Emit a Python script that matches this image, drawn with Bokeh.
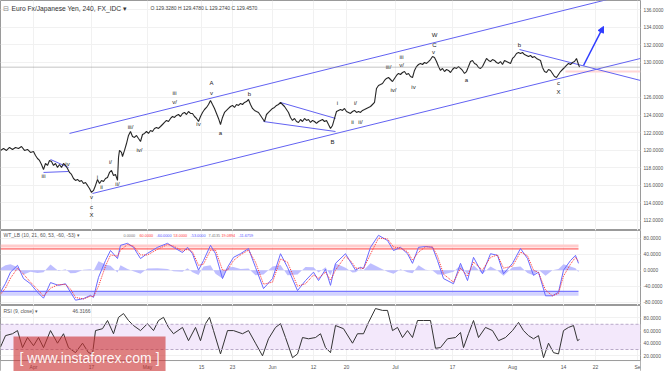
from bokeh.plotting import figure
from bokeh.layouts import column
from bokeh.models import Range1d, FixedTicker, NumeralTickFormatter, Label, Span, Arrow, NormalHead
from bokeh.core.properties import value
from bokeh.embed import file_html
from bokeh.resources import INLINE

FONT = "Liberation Sans"

# ---------------- data (x = bar index along the time axis) ----------------
price_x = ([0, 3, 6, 9, 12, 15, 18, 21, 24, 27, 30, 33]
           + list(range(35, 118, 2)) + [118, 119, 121, 122]
           + list(range(124, 149, 2)) + list(range(150, 579, 2)) + [579])
price = [119.96, 120.18, 119.96, 120.30, 120.07, 120.30, 120.18, 120.41, 119.96, 120.07, 119.73, 119.84,
         119.39, 119.04, 118.82, 118.36, 117.79, 118.47, 118.25, 118.82, 118.70, 118.25,
         118.47, 118.02, 118.36, 118.02, 118.47, 118.25, 117.90, 117.45, 117.22, 116.76,
         116.54, 116.65, 116.42, 116.54, 116.19, 116.31, 115.97, 115.62, 115.17, 115.40,
         115.97, 116.65, 116.19, 116.54, 116.42, 116.76, 116.88, 117.45, 117.68, 117.11,
         117.22, 116.54,
         119.16, 119.96, 119.73, 119.27,
         119.96, 120.75, 121.67, 122.12, 121.55, 121.44, 121.67, 121.32, 120.98, 121.78, 121.90, 122.12, 121.90,
         122.24, 122.12, 122.47, 122.58, 122.47, 122.69, 122.92, 123.15, 123.38, 123.26,
         123.61, 123.83, 123.72, 123.95, 124.06, 123.83, 124.18, 124.29, 124.06, 124.40,
         124.18, 124.18, 123.83, 123.61, 123.26, 123.83, 124.29, 124.63, 124.86, 125.20,
         125.66, 125.20, 124.75, 124.18, 123.61, 122.92, 123.72, 124.29, 124.52, 124.75,
         124.97, 125.09, 124.86, 125.20, 125.09, 125.32, 125.20, 125.43, 125.54, 125.77,
         125.20, 124.75, 124.52, 124.40, 124.29, 123.95, 123.61, 123.26, 124.06, 124.29,
         124.52, 124.75, 124.86, 125.09, 125.20, 125.43, 125.20, 124.97, 124.63, 124.29,
         123.72, 123.38, 123.61, 123.26, 123.15, 123.49, 123.26, 123.61, 123.38, 123.49,
         123.15, 123.38, 123.26, 123.04, 123.26, 123.38, 123.49, 123.26, 123.38, 122.92,
         122.47, 122.81, 123.61, 124.40, 124.52, 124.63, 124.52, 124.75, 124.40, 124.29,
         124.18, 124.40, 124.52, 124.29, 124.40, 124.29, 124.52, 124.63, 124.75, 124.86,
         124.97, 125.20, 125.43, 127.03, 127.37, 127.48, 127.60, 127.94, 128.17, 128.28,
         128.05, 127.82, 128.17, 128.51, 128.74, 128.62, 128.85, 128.96, 128.62, 128.74,
         128.39, 128.28, 129.08, 129.53, 129.76, 129.88, 129.76, 129.99, 129.88, 130.10,
         130.33, 130.67, 130.56, 130.10, 129.53, 129.08, 129.31, 128.96, 129.19, 129.08,
         128.85, 129.19, 129.42, 129.31, 129.53, 129.31, 129.08, 128.74, 128.96, 129.53,
         130.10, 130.22, 129.88, 129.76, 129.42, 129.31, 129.53, 129.99, 130.45, 130.22,
         130.10, 130.33, 130.22, 129.99, 129.88, 130.10, 129.76, 130.22, 130.10, 129.99,
         129.88, 130.45, 130.67, 131.02, 131.13, 131.02, 131.13, 130.90, 130.79, 130.67,
         130.79, 130.56, 130.67, 130.45, 130.33, 130.22, 129.42, 128.96, 128.85, 129.19,
         129.08, 128.74, 128.39, 128.28, 128.62, 128.96, 129.19, 129.42, 129.65, 129.88,
         129.76, 129.99, 130.10, 130.45, 129.76,
         129.46]
last_close = 129.457
red_level = 128.0

# trend lines: (x0, p0, x1, p1)
line_x0 = [69, 92, 43, 50, 280, 263, 519]
line_p0 = [121.90, 115.05, 117.45, 118.93, 125.43, 123.26, 131.47]
line_x1 = [640, 640, 68, 68, 335, 335, 640]
line_p1 = [138.11, 130.45, 117.56, 118.02, 123.61, 122.12, 127.94]
arrow_from = (583, 129.65)
arrow_to = (603, 134.10)
pink_left, pink_right, pink_bottom, pink_top = 565, 640, 128.85, 129.08

# Elliott wave labels
wave_txt = ["iii", "iv", "v", "c", "X", "i", "ii", "i/", "ii/", "iii/", "iv/", "iii", "v/", "iv",
            "A", "v", "a", "b", "B", "i", "i/", "ii", "ii/", "iii", "iii/", "v/", "iv/", "iv",
            "W", "C", "v", "a", "b", "c", "X"]
wave_x = [43, 67, 91, 91, 91, 97, 101, 110, 117, 130, 139, 174, 174, 198,
          211, 211, 220, 249, 332, 337, 355, 352, 360, 401, 388, 401, 393, 413,
          434, 434, 433, 466, 519, 558, 558]
wave_p = [116.99, 118.47, 114.60, 113.46, 112.55, 116.88, 115.74, 118.59, 116.08, 122.58, 119.96,
          126.46, 125.43, 122.92, 127.60, 126.46, 121.90, 126.34, 120.87, 125.32, 125.32, 123.15,
          123.15, 130.67, 129.53, 129.65, 126.91, 127.14, 133.07, 131.93, 131.13, 127.94, 132.04,
          127.60, 126.68]

price_ticks = [112, 114, 116, 118, 120, 122, 124, 126, 130, 132, 134, 136]

# WT_LB oscillator
wt_x = [0, 5, 10, 17, 23, 30, 37, 43, 50, 58, 65, 70, 75, 83, 90, 93, 98, 105, 110, 117, 120, 127,
        133, 140, 147, 157, 167, 173, 182, 187, 192, 198, 203, 210, 215, 222, 227, 233, 240, 248,
        255, 263, 272, 280, 287, 297, 305, 313, 318, 325, 330, 335, 345, 352, 355, 360, 363, 370,
        378, 387, 393, 400, 407, 412, 418, 425, 432, 437, 443, 453, 460, 467, 473, 482, 490, 497,
        503, 512, 520, 527, 533, 538, 545, 552, 558, 563, 570, 575, 578]
wt1 = [-55, -33, -5, 12, -21, -34, -55, -70, -31, -38, -34, -55, -75, -71, -63, -68, -18, 24, 49, 29,
       62, 67, 57, 29, 42, 57, 67, 57, 44, 57, 41, 0, 24, 62, 41, -21, 7, 32, 41, 54, 7, -46, -21,
       41, 7, -51, -26, -5, -26, 2, -38, 17, 41, 12, 0, 7, 4, 57, 87, 74, 49, 57, 41, 17, 57, 59, 57,
       24, -21, -34, 17, -26, 32, -9, 41, 37, -9, 17, 54, 29, -13, -5, -64, -64, -55, 0, 24, 37, 17]
wt2 = [-60, -45, -20, 5, -10, -30, -48, -65, -45, -36, -36, -47, -68, -72, -65, -66, -40, 10, 38, 35,
       50, 64, 60, 38, 38, 52, 64, 60, 48, 52, 46, 12, 15, 50, 50, 0, 0, 24, 38, 50, 20, -35, -30,
       28, 20, -40, -34, -12, -20, -5, -25, 0, 35, 18, 5, 5, 4, 40, 80, 78, 58, 55, 46, 25, 45, 58,
       58, 35, -10, -30, 5, -15, 20, 0, 32, 38, 5, 10, 45, 36, 0, -6, -50, -64, -58, -15, 15, 32, 22]
wt_hist = [5, 12, 15, 7, -11, -4, -7, -5, 14, -2, 2, -8, -7, 1, 2, -2, 22, 14, 11, -6, 12, 3, -3, -9,
           4, 5, 3, -3, -4, 5, -5, -12, 9, 12, -9, -21, 7, 8, 3, 4, -13, -11, 9, 13, -13, -11, 8, 7,
           -6, 7, -13, 17, 6, -6, -5, 2, 0, 17, 7, -4, -9, 2, -5, -8, 12, 1, -1, -11, -11, -4, 12,
           -11, 12, -9, 9, -1, -14, 7, 9, -7, -13, 1, -14, 0, 3, 15, 9, 5, -5]
osc_ticks = [-80, -40, 0, 40, 80]
osc_header_vals = ["0.0000", "60.0000", "-60.0000", "53.0000", "-53.0000", "7.4135", "19.0894", "-11.6759"]
osc_header_cols = ["#777777", "#ff3b3b", "#5555ff", "#ff3b3b", "#5555ff", "#777777", "#ff3b3b", "#5555ff"]
osc_header_x = [123, 139, 156, 173, 190, 208, 221, 238]

# RSI (9, close)
rsi_x = [0, 5, 12, 17, 22, 27, 33, 38, 43, 50, 57, 63, 68, 75, 82, 88, 92, 95, 102, 107, 113, 118,
         123, 128, 133, 140, 147, 153, 158, 163, 168, 173, 182, 188, 195, 200, 205, 209, 213, 220,
         227, 233, 242, 248, 255, 262, 268, 275, 280, 285, 292, 297, 302, 308, 315, 320, 325, 330,
         335, 343, 352, 357, 363, 368, 375, 382, 387, 392, 397, 402, 407, 412, 417, 423, 430, 435,
         440, 447, 455, 460, 463, 468, 473, 478, 485, 492, 498, 505, 512, 518, 523, 528, 533, 538,
         543, 548, 553, 558, 563, 568, 573, 577, 579]
rsi = [34, 52, 55, 60, 33, 49, 36, 49, 33, 60, 40, 55, 33, 25, 40, 25, 23, 60, 63, 76, 55, 81, 87,
       76, 68, 60, 71, 60, 76, 81, 65, 55, 65, 44, 65, 44, 71, 81, 60, 23, 60, 60, 55, 60, 40, 20,
       47, 65, 71, 49, 17, 23, 49, 47, 49, 55, 33, 25, 68, 63, 40, 55, 55, 73, 95, 92, 92, 60, 65,
       49, 60, 49, 76, 76, 76, 32, 33, 47, 49, 57, 33, 55, 76, 49, 65, 60, 44, 49, 60, 73, 60, 52,
       47, 52, 17, 40, 25, 23, 60, 65, 68, 44, 46]
rsi_ticks = [20, 40, 60, 80]
rsi_last = "46.3166"
rsi_floor = 12.5
rsi_bottom = -4.9

date_ticks = [33, 91, 147, 201, 232, 272, 313, 346, 395, 452, 512, 563, 595, 637]
date_labels = ["Apr", "17", "May", "15", "23", "Jun", "12", "20", "Jul", "17", "Aug", "14", "22", "Se"]

X_END = 640
FW = 640
AX_FONT = "4.8px"


def base(fh, yr, yticks):
    p = figure(frame_width=FW, frame_height=fh, x_range=Range1d(0, X_END), y_range=Range1d(*yr),
               output_backend="svg", toolbar_location=None,
               x_axis_location=None, y_axis_location="right",
               min_border_left=0, min_border_right=0, min_border_top=0, min_border_bottom=0)
    p.outline_line_color = "#9a9a9a"
    p.border_fill_color = "white"
    p.grid.grid_line_color = "#f1f1f1"
    p.xgrid.ticker = FixedTicker(ticks=date_ticks)
    p.yaxis.ticker = FixedTicker(ticks=yticks)
    p.yaxis.axis_line_color = None
    p.yaxis.major_tick_line_color = None
    p.yaxis.minor_tick_line_color = None
    p.yaxis.major_tick_out = 0
    p.yaxis.major_tick_in = 0
    p.yaxis.minor_tick_out = 0
    p.yaxis.major_label_text_font_size = AX_FONT
    p.yaxis.major_label_text_font = FONT
    p.yaxis.major_label_text_color = "#555555"
    p.yaxis.major_label_standoff = 3
    p.yaxis.formatter = NumeralTickFormatter(format="0.0000")
    return p


def lab(p, x, y, text, size="5px", color="#555555", **kw):
    p.add_layout(Label(x=x, y=y, text=text, text_font=FONT, text_font_size=size,
                       text_color=color, text_baseline="middle", **kw))


# ---------------- price panel ----------------
p1 = base(230, (110.83, 137.06), price_ticks)
p1.add_layout(Span(location=last_close, dimension="width", line_color="#888888",
                   line_dash="1 1", line_width=1))
p1.quad(left=[pink_left], right=[pink_right], bottom=[pink_bottom], top=[pink_top],
        fill_color="#ffd6d6", line_color=None)
p1.segment(x0=line_x0, y0=line_p0, x1=line_x1, y1=line_p1, line_color="#6262f2", line_width=1)
p1.line(price_x, price, line_color="#262626", line_width=1.1)
p1.add_layout(Arrow(end=NormalHead(size=6, fill_color="#2f3cff", line_color="#2f3cff"),
                    x_start=arrow_from[0], y_start=arrow_from[1], x_end=arrow_to[0], y_end=arrow_to[1],
                    line_color="#2f3cff", line_width=1.5))
p1.text(x=wave_x, y=wave_p, text=wave_txt, text_font=value(FONT), text_font_size="6px",
        text_color="#222222", text_align="center", text_baseline="middle")
lab(p1, 2, 136.15, "\u229f", size="7px", color="#888888")
lab(p1, 11, 136.15, "Euro Fx/Japanese Yen, 240, FX_IDC \u25be", size="6.7px", color="#333333")
lab(p1, 150, 136.15, "O 129.3280  H 129.4780  L 129.2740  C 129.4570", size="5px", color="#444444")
lab(p1, X_END + 1, last_close, "129.4570", size=AX_FONT, color="white",
    background_fill_color="#111111", padding=1)
lab(p1, X_END + 1, 128.62, "02:39:18", size=AX_FONT, color="white",
    background_fill_color="#111111", padding=1)
lab(p1, X_END + 1, red_level, "128.0000", size=AX_FONT, color="white",
    background_fill_color="#ff1a1a", padding=1)

# ---------------- WT_LB panel ----------------
p2 = base(75, (-88.25, 99), osc_ticks)
p2.segment(x0=0, y0=60, x1=wt_x[-1], y1=60, line_color="#ffcccc", line_width=3)
p2.segment(x0=0, y0=53, x1=wt_x[-1], y1=53, line_color="#ff3b3b", line_width=1)
p2.segment(x0=0, y0=-60, x1=wt_x[-1], y1=-60, line_color="#d2d2ff", line_width=3)
p2.segment(x0=0, y0=-53, x1=wt_x[-1], y1=-53, line_color="#7a7aff", line_width=1.5)
p2.varea(x=wt_x, y1=0, y2=wt_hist, fill_color="#a8a8ff", fill_alpha=0.75)
p2.line(wt_x, wt1, line_color="#6a6aff", line_width=1)
p2.line(wt_x, wt2, line_color="#ff3030", line_width=1, line_dash="1 1")
lab(p2, 3, 86.75, "WT_LB (10, 21, 60, 53, -60, -53) \u25be", color="#555555")
for hx, ht, hc in zip(osc_header_x, osc_header_vals, osc_header_cols):
    lab(p2, hx, 86.75, ht, size="3.8px", color=hc)

# ---------------- RSI panel (with the date strip inside its frame) ----------------
p3 = base(66, (rsi_bottom, 99.8), rsi_ticks)
p3.quad(left=[0], right=[X_END], bottom=[30], top=[70], fill_color="#f3e8fb", line_color=None)
p3.add_layout(Span(location=70, dimension="width", line_color="#b9a9c9", line_dash="3 2", line_width=1))
p3.add_layout(Span(location=30, dimension="width", line_color="#b9a9c9", line_dash="3 2", line_width=1))
p3.quad(left=[0], right=[X_END], bottom=[rsi_bottom], top=[rsi_floor], fill_color="white", line_color=None)
p3.add_layout(Span(location=rsi_floor, dimension="width", line_color="#9a9a9a", line_width=1))
p3.line(rsi_x, rsi, line_color="#333333", line_width=1)
lab(p3, 3, 90.3, "RSI (9, close) \u25be", color="#555555")
lab(p3, 72, 90.3, rsi_last, color="#555555")
p3.text(x=date_ticks, y=3.0, text=date_labels, text_font=value(FONT), text_font_size="5px",
        text_color="#555555", text_align="center", text_baseline="middle")
p3.add_layout(Label(x=13, y=17.3, text="[ www.instaforex.com ]", text_font=FONT,
                    text_font_size="14px", text_color="white", text_alpha=0.95,
                    text_baseline="middle", background_fill_color="#cc3333",
                    background_fill_alpha=0.62, padding=(6, 13)))

layout = column(p1, p2, p3, spacing=0)
open("out.html", "w").write(file_html(layout, INLINE))
